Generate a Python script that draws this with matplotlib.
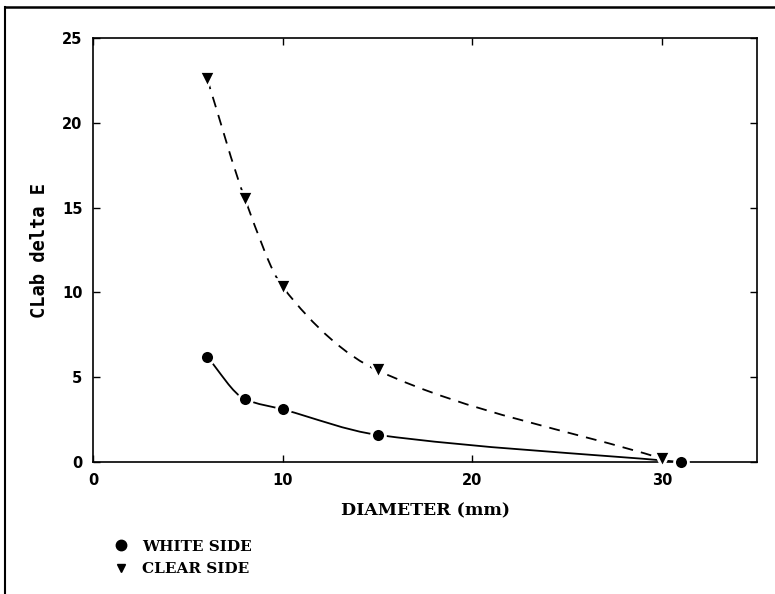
import numpy as np
import matplotlib
matplotlib.use("Agg")
import matplotlib.pyplot as plt
from matplotlib.path import Path
from matplotlib.patches import PathPatch
from matplotlib.lines import Line2D

# Dados
diam_white = [6, 8, 10, 15, 31]
de_white = [6.2, 3.7, 3.1, 1.6, 0.0]
diam_clear = [6, 8, 10, 15, 30]
de_clear = [22.6, 15.5, 10.3, 5.4, 0.2]
series_labels = ["WHITE SIDE", "CLEAR SIDE"]
x_ticks = [0, 10, 20, 30]
y_ticks = [0, 5, 10, 15, 20, 25]


def smooth_path(x, y):
    # curva de Hermite (tangentes tipo PCHIP) desenhada como Bezier cubica
    x = np.asarray(x, float)
    y = np.asarray(y, float)
    h = np.diff(x)
    d = np.diff(y) / h
    m = np.empty_like(y)
    m[0], m[-1] = d[0], d[-1]
    for i in range(1, len(x) - 1):
        m[i] = 2.0 / (1.0 / d[i - 1] + 1.0 / d[i]) if d[i - 1] * d[i] > 0 else 0.0
    verts = [(x[0], y[0])]
    codes = [Path.MOVETO]
    for i in range(len(h)):
        verts += [(x[i] + h[i] / 3, y[i] + m[i] * h[i] / 3),
                  (x[i + 1] - h[i] / 3, y[i + 1] - m[i + 1] * h[i] / 3),
                  (x[i + 1], y[i + 1])]
        codes += [Path.CURVE4] * 3
    return Path(verts, codes)


fig = plt.figure(figsize=(7.75, 5.94), dpi=100)
ax = fig.add_axes([0.1206, 0.2222, 0.8557, 0.7138])

ax.add_patch(PathPatch(smooth_path(diam_white, de_white), fill=False,
                       edgecolor="black", lw=1.3))
ax.add_patch(PathPatch(smooth_path(diam_clear, de_clear), fill=False,
                       edgecolor="black", lw=1.3, linestyle=(0, (6, 4.5))))

ax.plot(diam_white, de_white, "o", color="black", ms=10,
        mec="white", mew=2, clip_on=False, zorder=5)
ax.plot(diam_clear, de_clear, "v", color="black", ms=11,
        mec="white", mew=2, clip_on=False, zorder=5)

ax.set_xlim(0, 35)
ax.set_ylim(0, 25)
ax.set_xticks(x_ticks)
ax.set_yticks(y_ticks)
ax.tick_params(direction="in", length=5, width=1, top=True, right=True,
               labelsize=10.5, pad=8)
for lab in ax.get_xticklabels() + ax.get_yticklabels():
    lab.set_fontfamily("DejaVu Sans")
    lab.set_fontweight("bold")
for s in ax.spines.values():
    s.set_linewidth(1.2)

ax.set_xlabel("DIAMETER (mm)", fontfamily="DejaVu Serif", fontweight="bold",
              fontsize=12.5, labelpad=10)
ax.set_ylabel("CLab delta E", fontfamily="DejaVu Sans Mono", fontweight="bold",
              fontsize=13.5, labelpad=9)

# legenda abaixo do eixo
handles = [Line2D([], [], ls="none", marker="o", color="black", ms=7.5),
           Line2D([], [], ls="none", marker="v", color="black", ms=6)]
fig.legend(handles, series_labels, loc="upper left",
           bbox_to_anchor=(0.138, 0.102), frameon=False,
           prop={"family": "DejaVu Serif", "weight": "bold", "size": 11},
           handlelength=1.0, handletextpad=0.9, labelspacing=0.55,
           borderaxespad=0)

# moldura externa (apenas topo e esquerda aparecem)
fig.add_artist(Line2D([0.0065, 0.0065], [0, 0.988], color="black", lw=1.5,
                      transform=fig.transFigure))
fig.add_artist(Line2D([0.0065, 1.0], [0.988, 0.988], color="black", lw=1.8,
                      transform=fig.transFigure))

fig.savefig("out.png", dpi=100)
